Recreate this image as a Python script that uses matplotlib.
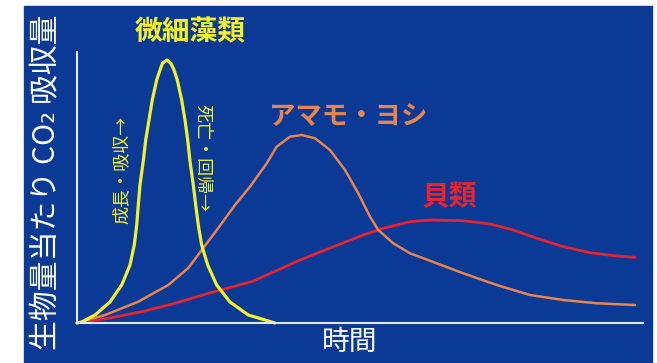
import matplotlib
matplotlib.use("Agg")
import matplotlib.pyplot as plt
from matplotlib.patches import Rectangle

plt.rcParams['font.family'] = ['Noto Sans CJK JP', 'DejaVu Sans']

# 時間 (0-100) と生物量当たり CO2 吸収量 (0-100) の相対値
algae_t = [0, 0.83, 3.18, 5.83, 7.90, 9.36, 10.12, 10.55, 10.83, 11.13, 11.71, 12.14, 12.72, 13.30,
           14.08, 14.66, 15.1, 15.85, 16.6, 17.14, 17.72, 18.50, 19.08, 19.56, 19.96, 20.55, 20.97,
           21.43, 22.03, 23.09, 24.68, 27.03, 30.27, 34.40, 34.98]
algae_co2 = [0, 0.37, 2.95, 7.75, 14.02, 21.40, 28.78, 36.16, 43.54, 50.92, 59.78, 67.53, 74.91, 82.29,
             89.67, 93.36, 95.8, 97.05, 95.8, 93.36, 89.67, 82.29, 74.91, 67.53, 59.78, 50.92, 43.54,
             36.16, 28.78, 21.40, 14.02, 7.75, 2.95, 0.37, 0]

seagrass_t = [0, 4.95, 10.83, 16.13, 19.66, 22.31, 24.96, 27.92, 30.57, 33.52, 35.28, 37.63, 39.70,
              42.05, 44.70, 47.35, 49.70, 51.77, 53.23, 55.88, 58.83, 62.01, 68.25, 74.15, 80.04,
              85.92, 91.82, 98.59]
seagrass_co2 = [0, 2.95, 7.86, 14.02, 20.30, 27.68, 35.06, 43.54, 50.30, 58.93, 65.06, 68.75, 69.37,
                68.15, 63.84, 56.46, 47.86, 39.22, 34.32, 29.41, 25.72, 23.25, 18.34, 14.02, 10.33,
                8.49, 7.27, 6.64]

shellfish_t = [0, 5.53, 11.43, 17.31, 23.20, 30.87, 36.17, 39.40, 45.28, 50.58, 54.12, 58.83, 62.37,
               68.25, 72.97, 77.08, 81.22, 85.92, 90.64, 95.35, 98.59]
shellfish_co2 = [0, 1.73, 4.17, 7.27, 10.96, 15.24, 20.18, 23.25, 28.15, 32.47, 34.94, 37.38, 38.01,
                 37.75, 36.53, 34.32, 31.25, 28.15, 25.94, 24.72, 24.24]

W, H = 657, 363
bg = '#0a3996'
yellow = '#f2f02c'
orange = '#e8844e'
red = '#e8222e'

fig = plt.figure(figsize=(W / 100, H / 100), dpi=100, facecolor='white')
fig.patches.append(Rectangle((24 / W, 0), (652 - 24) / W, (363 - 6) / H,
                             transform=fig.transFigure, color=bg, zorder=-1))

ax = fig.add_axes([77 / W, (H - 323) / H, (643 - 77) / W, (323 - 52) / H])
ax.set_facecolor('none')
ax.set_xlim(0, 100)
ax.set_ylim(0, 100)
ax.set_xticks([])
ax.set_yticks([])
for side in ['top', 'right']:
    ax.spines[side].set_visible(False)
for side in ['left', 'bottom']:
    ax.spines[side].set_color('#dce8ff')
    ax.spines[side].set_linewidth(1.5)

line_kw = dict(clip_on=False, solid_capstyle='round', solid_joinstyle='round')
ax.plot(shellfish_t, shellfish_co2, color=red, lw=2.0, **line_kw)
ax.plot(seagrass_t, seagrass_co2, color=orange, lw=1.8, **line_kw)
ax.plot(algae_t, algae_co2, color=yellow, lw=2.3, **line_kw)

# ラベル
fig.text(190 / W, 1 - 32 / H, '微細藻類', color=yellow, fontsize=20, fontweight='bold', ha='center', va='center')
fig.text(348 / W, 1 - 117 / H, 'アマモ・ヨシ', color=orange, fontsize=19, fontweight='bold', ha='center', va='center')
fig.text(449 / W, 1 - 197 / H, '貝類', color=red, fontsize=20, fontweight='bold', ha='center', va='center')
fig.text(122 / W, 1 - 170 / H, '成長・吸収→', color=yellow, fontsize=13, rotation=90, ha='center', va='center')
fig.text(203 / W, 1 - 158 / H, '死亡・回帰→', color=yellow, fontsize=13, rotation=270, ha='center', va='center')

fig.text(350 / W, 1 - 342 / H, '時間', color='white', fontsize=20, ha='center', va='center')
fig.text(47 / W, 1 - 182 / H, '生物量当たり CO₂ 吸収量', color='white', fontsize=21.5, rotation=90, ha='center', va='center')

fig.savefig('out.png', dpi=100, facecolor='white')
